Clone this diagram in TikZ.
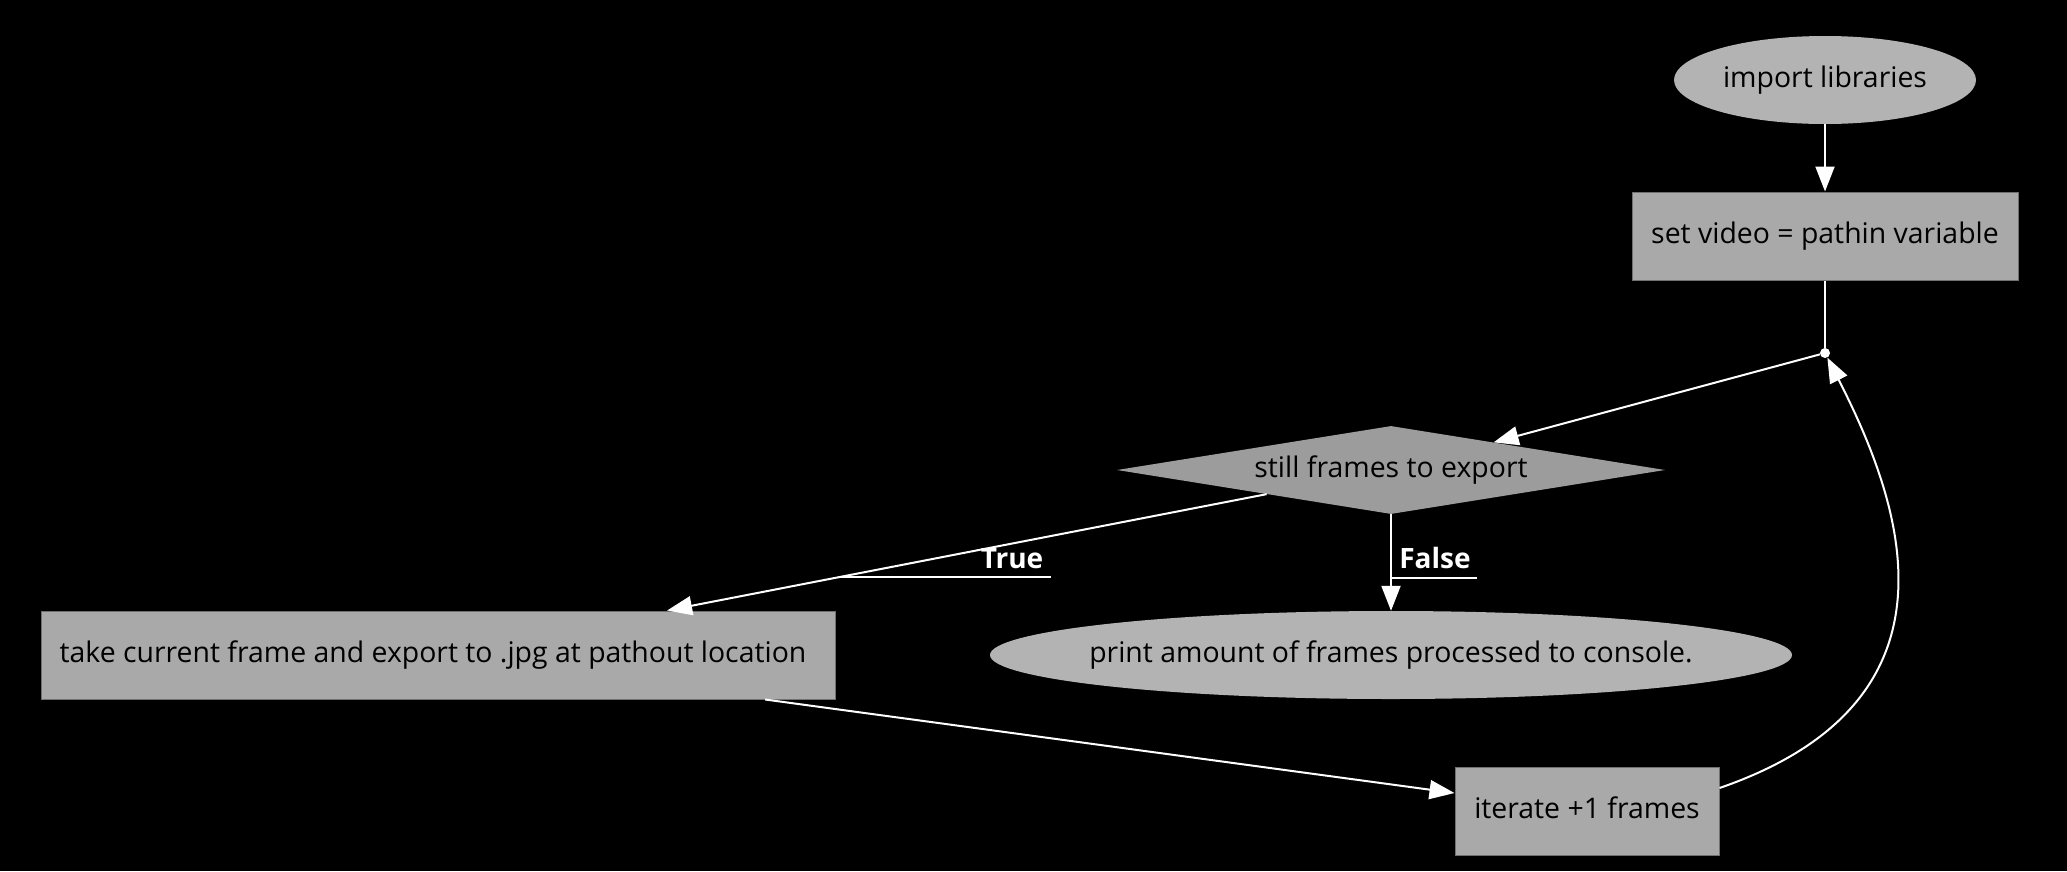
\documentclass[tikz,border=0pt]{standalone}
\usepackage{fontspec}
\setmainfont{Open Sans}
\usetikzlibrary{shapes.geometric,arrows.meta}
\definecolor{ellfill}{HTML}{B3B3B3}
\definecolor{boxfill}{HTML}{A9A9A9}
\definecolor{diafill}{HTML}{9C9C9C}
\definecolor{boxline}{HTML}{707070}
\begin{document}
\begin{tikzpicture}[x=1pt,y=-1pt,
  base/.style={inner sep=0pt, text height=20pt, text depth=6pt, text=black,
    font=\fontsize{28.4pt}{32pt}\selectfont},
  ellnode/.style={base, ellipse, fill=ellfill},
  boxnode/.style={base, rectangle, fill=boxfill, draw=boxline, line width=1pt},
  dianode/.style={base, diamond, fill=diafill, aspect=6.23},
  lbl/.style={inner sep=0pt, text height=20pt, text depth=6pt, text=white,
    font=\bfseries\fontsize{28pt}{32pt}\selectfont},
  conn/.style={draw=white, line width=2pt},
  edge/.style={conn, -{Triangle[length=25pt,width=19pt]}},
]
\fill[black] (0,0) rectangle (2067,871);
\useasboundingbox (0,0) rectangle (2067,871);

\node[ellnode, minimum width=302pt, minimum height=88pt] (imp) at (1825,80) {\makebox[0pt]{import libraries}};
\node[boxnode, minimum width=386pt, minimum height=88pt] (setv) at (1825,236) {set video = pathin variable};
\node[circle, fill=white, inner sep=0pt, minimum size=10pt] (dot) at (1825,353) {};
\node[dianode, minimum width=548pt, minimum height=88pt] (dia) at (1391,470) {\makebox[0pt]{still frames to export}};
\node[boxnode, minimum width=794pt, minimum height=88pt] (take) at (438,655) {\makebox[0pt]{\hspace*{-10pt}take current frame and export to .jpg at pathout location}};
\node[ellnode, minimum width=802pt, minimum height=88pt] (prn) at (1391,655) {\makebox[0pt]{print amount of frames processed to console.}};
\node[boxnode, minimum width=264pt, minimum height=88pt] (iter) at (1587,811) {iterate +1 frames};

\node[lbl] (lblT) at (1012,561) {True};
\node[lbl] (lblF) at (1435,561) {False};
\coordinate (tS) at (839,577);
\coordinate (tE) at (1051,577);
\coordinate (fS) at (1391,578);
\coordinate (fE) at (1477,578);

\draw[edge] (imp) -- (setv);
\draw[conn] (setv) -- (dot);
\draw[edge] (dot) -- (dia);
\draw[edge] (dia) -- (take);
\draw[conn, line width=1.6pt] (tS) -- (tE);
\draw[edge] (dia) -- (prn);
\draw[conn, line width=1.6pt] (fS) -- (fE);
\draw[edge] (take) -- (iter);
\draw[edge] ([yshift=23pt]iter.east) .. controls (1975,700) and (1900,500) .. (dot);
\end{tikzpicture}
\end{document}
